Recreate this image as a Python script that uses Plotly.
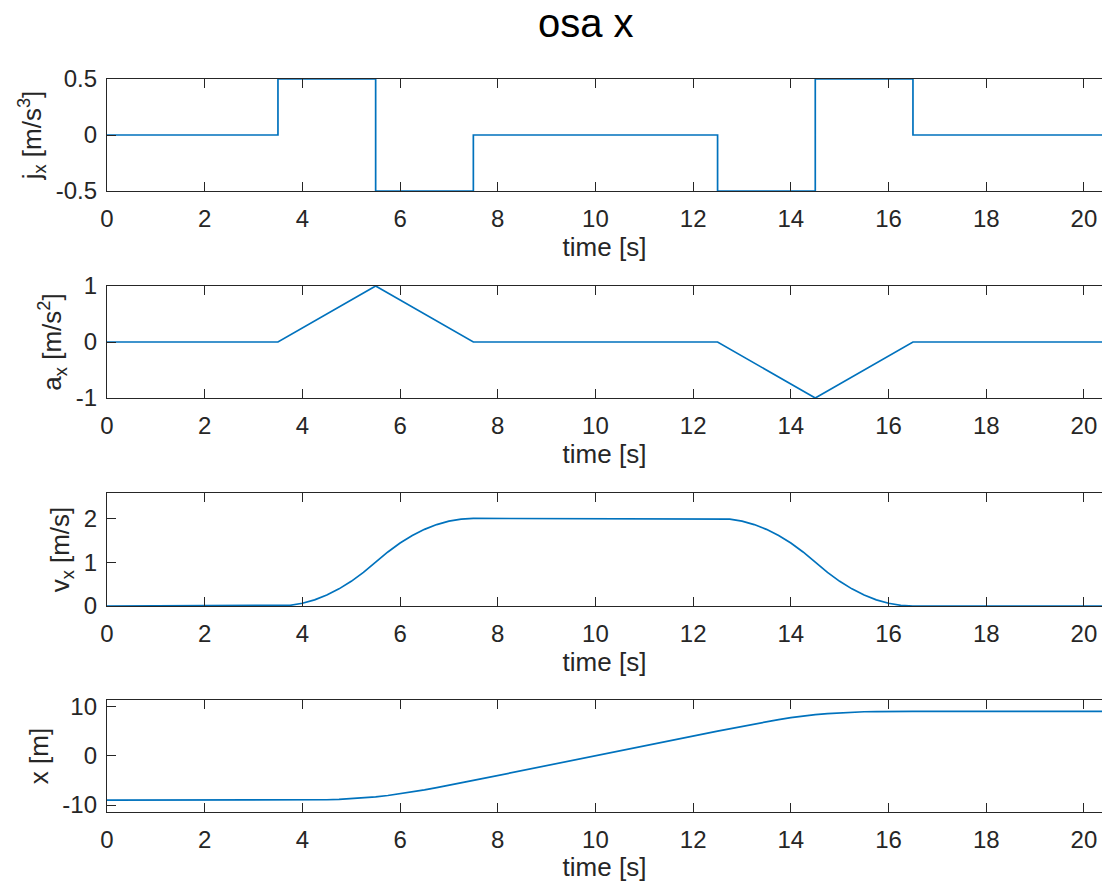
import plotly.graph_objects as go
from plotly.subplots import make_subplots

# ---------------- data ----------------
t_jerk = [0, 3.5, 5.5, 7.5, 12.5, 14.5, 16.5, 20.5]
jerk = [0, 0.5, -0.5, 0, -0.5, 0.5, 0, 0]

t_acc = [0, 3.5, 5.5, 7.5, 12.5, 14.5, 16.5, 20.5]
acc = [0, 0, 1, 0, 0, -1, 0, 0]

t_vel = [0, 3.5, 3.75, 4.0, 4.25, 4.5, 4.75, 5.0, 5.25, 5.5,
         5.75, 6.0, 6.25, 6.5, 6.75, 7.0, 7.25, 7.5,
         12.5, 12.75, 13.0, 13.25, 13.5, 13.75, 14.0, 14.25, 14.5,
         14.75, 15.0, 15.25, 15.5, 15.75, 16.0, 16.25, 16.5, 20.5]
vel = [0, 0, 0.016, 0.063, 0.141, 0.25, 0.391, 0.563, 0.766, 1.0,
       1.234, 1.438, 1.609, 1.75, 1.859, 1.938, 1.984, 2.0,
       2.0, 1.984, 1.938, 1.859, 1.75, 1.609, 1.438, 1.234, 1.0,
       0.766, 0.563, 0.391, 0.25, 0.141, 0.063, 0.016, 0, 0]

t_pos = [0, 3.5, 3.75, 4.0, 4.25, 4.5, 4.75, 5.0, 5.25, 5.5,
         5.75, 6.0, 6.25, 6.5, 6.75, 7.0, 7.25, 7.5,
         12.5, 12.75, 13.0, 13.25, 13.5, 13.75, 14.0, 14.25, 14.5,
         14.75, 15.0, 15.25, 15.5, 15.75, 16.0, 16.25, 16.5, 20.5]
pos = [-9, -9, -9.0, -8.99, -8.96, -8.92, -8.84, -8.72, -8.55, -8.33,
       -8.05, -7.72, -7.34, -6.92, -6.46, -5.99, -5.50, -5.0,
       5.0, 5.50, 5.99, 6.46, 6.92, 7.34, 7.72, 8.05, 8.33,
       8.55, 8.72, 8.84, 8.92, 8.96, 8.99, 9.0, 9.0, 9.0]

x_ticks = [0, 2, 4, 6, 8, 10, 12, 14, 16, 18, 20]
y_ticks = [[-0.5, 0, 0.5], [-1, 0, 1], [0, 1, 2], [-10, 0, 10]]
y_ticktext = [["-0.5", "0", "0.5"], ["-1", "0", "1"], ["0", "1", "2"], ["-10", "0", "10"]]
y_ranges = [[-0.5, 0.5], [-1, 1], [0, 2.58], [-11.4, 11.3]]
y_titles = ["j<sub>x</sub> [m/s<sup>3</sup>]", "a<sub>x</sub> [m/s<sup>2</sup>]",
            "v<sub>x</sub> [m/s]", "x [m]"]
x_title = "time [s]"
main_title = "osa x"

# ---------------- layout constants ----------------
W, H = 1102, 882
ML, MR, MT, MB = 107, 0, 79, 70
plot_h = H - MT - MB
panels_px = [(79, 191), (286, 398), (493, 606), (700, 812)]
LINE = "#0072BD"
AX = "#262626"
FONT = "Liberation Sans, Arial, Helvetica, sans-serif"

fig = make_subplots(rows=4, cols=1)

series = [(t_jerk, jerk, "hv"), (t_acc, acc, "linear"), (t_vel, vel, "linear"), (t_pos, pos, "linear")]
for i, (tx, ty, shape) in enumerate(series):
    fig.add_trace(go.Scatter(x=tx, y=ty, mode="lines", line=dict(color=LINE, width=1.7, shape=shape),
                             showlegend=False, hoverinfo="skip", cliponaxis=False),
                  row=i + 1, col=1)

for i in range(4):
    top, bot = panels_px[i]
    dom = [(H - MB - bot) / plot_h, (H - MB - top) / plot_h]
    xa = "xaxis" if i == 0 else f"xaxis{i+1}"
    ya = "yaxis" if i == 0 else f"yaxis{i+1}"
    fig.layout[xa].update(
        domain=[0, 1], range=[0, 20.37], tickvals=x_ticks, ticks="inside", ticklen=9,
        tickwidth=1.3, tickcolor=AX, showline=True, linecolor=AX, linewidth=1.4,
        mirror="ticks", showgrid=False, zeroline=False,
        tickfont=dict(family=FONT, size=24, color=AX), ticklabelstandoff=6,
        title=dict(text=x_title, font=dict(family=FONT, size=26, color=AX), standoff=6),
    )
    fig.layout[ya].update(
        domain=dom, range=y_ranges[i], tickvals=y_ticks[i], ticktext=y_ticktext[i],
        ticks="inside", ticklen=9, tickwidth=1.3, tickcolor=AX, showline=True,
        linecolor=AX, linewidth=1.4, mirror=False, showgrid=False, zeroline=False,
        tickfont=dict(family=FONT, size=24, color=AX), ticklabelstandoff=4,
        title=dict(text=y_titles[i], font=dict(family=FONT, size=26, color=AX), standoff=6),
    )

fig.add_annotation(text=main_title, xref="paper", yref="paper",
                   x=(586 - ML) / (W - ML - MR), y=(H - MB - 23) / plot_h,
                   xanchor="center", yanchor="middle", showarrow=False,
                   font=dict(family=FONT, size=40, color="#000000"))

fig.update_layout(width=W, height=H, margin=dict(l=ML, r=MR, t=MT, b=MB),
                  paper_bgcolor="white", plot_bgcolor="white")

fig.write_html("out.html")
